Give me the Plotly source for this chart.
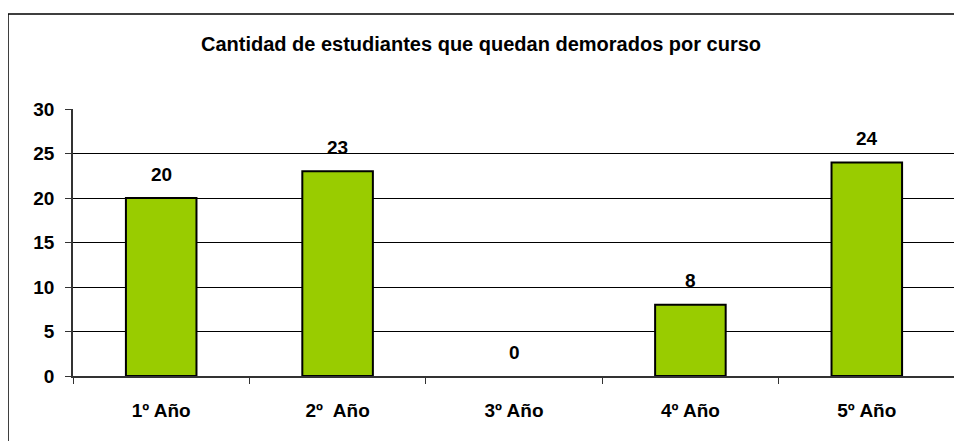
import plotly.graph_objects as go

cursos = ['1º Año', '2º  Año', '3º Año', '4º Año', '5º Año']
demorados = [20, 23, 0, 8, 24]
y_ticks = [0, 5, 10, 15, 20, 25, 30]

fuente = dict(family='Liberation Sans, Arial', size=19, color='black')

fig = go.Figure()
fig.add_trace(go.Bar(
    x=cursos, y=demorados,
    marker=dict(color='#99CC00',
                line=dict(color='black', width=[2 if v > 0 else 0 for v in demorados])),
    hoverinfo='x+y',
))

# etiquetas de datos encima de cada barra
for c, v in zip(cursos, demorados):
    fig.add_annotation(x=c, y=v, text=f'<b>{v}</b>', showarrow=False,
                       yshift=24, font=fuente)

# el body de la pagina tiene 8px de margen, se descuenta aqui
fig.update_layout(
    width=954, height=433,
    margin=dict(l=65, r=7, t=101, b=65),
    paper_bgcolor='white', plot_bgcolor='white',
    bargap=0.6,
    showlegend=False,
    font=fuente,
    title=dict(text='<b>Cantidad de estudiantes que quedan demorados por curso</b>',
               x=(481 - 8) / 954, xref='container', xanchor='center',
               y=1 - 36 / 433, yanchor='middle',
               font=dict(family='Liberation Sans, Arial', size=20, color='black')),
    xaxis=dict(
        showgrid=False, ticks='outside', tickson='boundaries', ticklen=6,
        tickcolor='#333', showline=True, linecolor='#333', linewidth=1.5,
        tickfont=dict(family='Liberation Sans, Arial', size=19, color='black', weight='bold'),
        ticklabelstandoff=16,
    ),
    yaxis=dict(
        range=[0, 30], tickvals=y_ticks, ticks='outside', ticklen=6,
        tickcolor='#333', showline=True, linecolor='#333', linewidth=1.5,
        showgrid=True, gridcolor='black', gridwidth=1, zeroline=False,
        tickfont=dict(family='Liberation Sans, Arial', size=19, color='black', weight='bold'),
        ticklabelstandoff=7,
    ),
    shapes=[
        # borde derecho del area de trazado
        dict(type='line', xref='paper', yref='paper', x0=1, x1=1, y0=0, y1=1,
             line=dict(color='#999', width=2)),
        # marco del grafico
        dict(type='rect', xref='paper', yref='paper',
             x0=(0 - 65) / 882, x1=1.2, y0=-0.5, y1=1 + (101 - 6) / 267,
             line=dict(color='black', width=1.5)),
    ],
)

fig.write_html('out.html')
